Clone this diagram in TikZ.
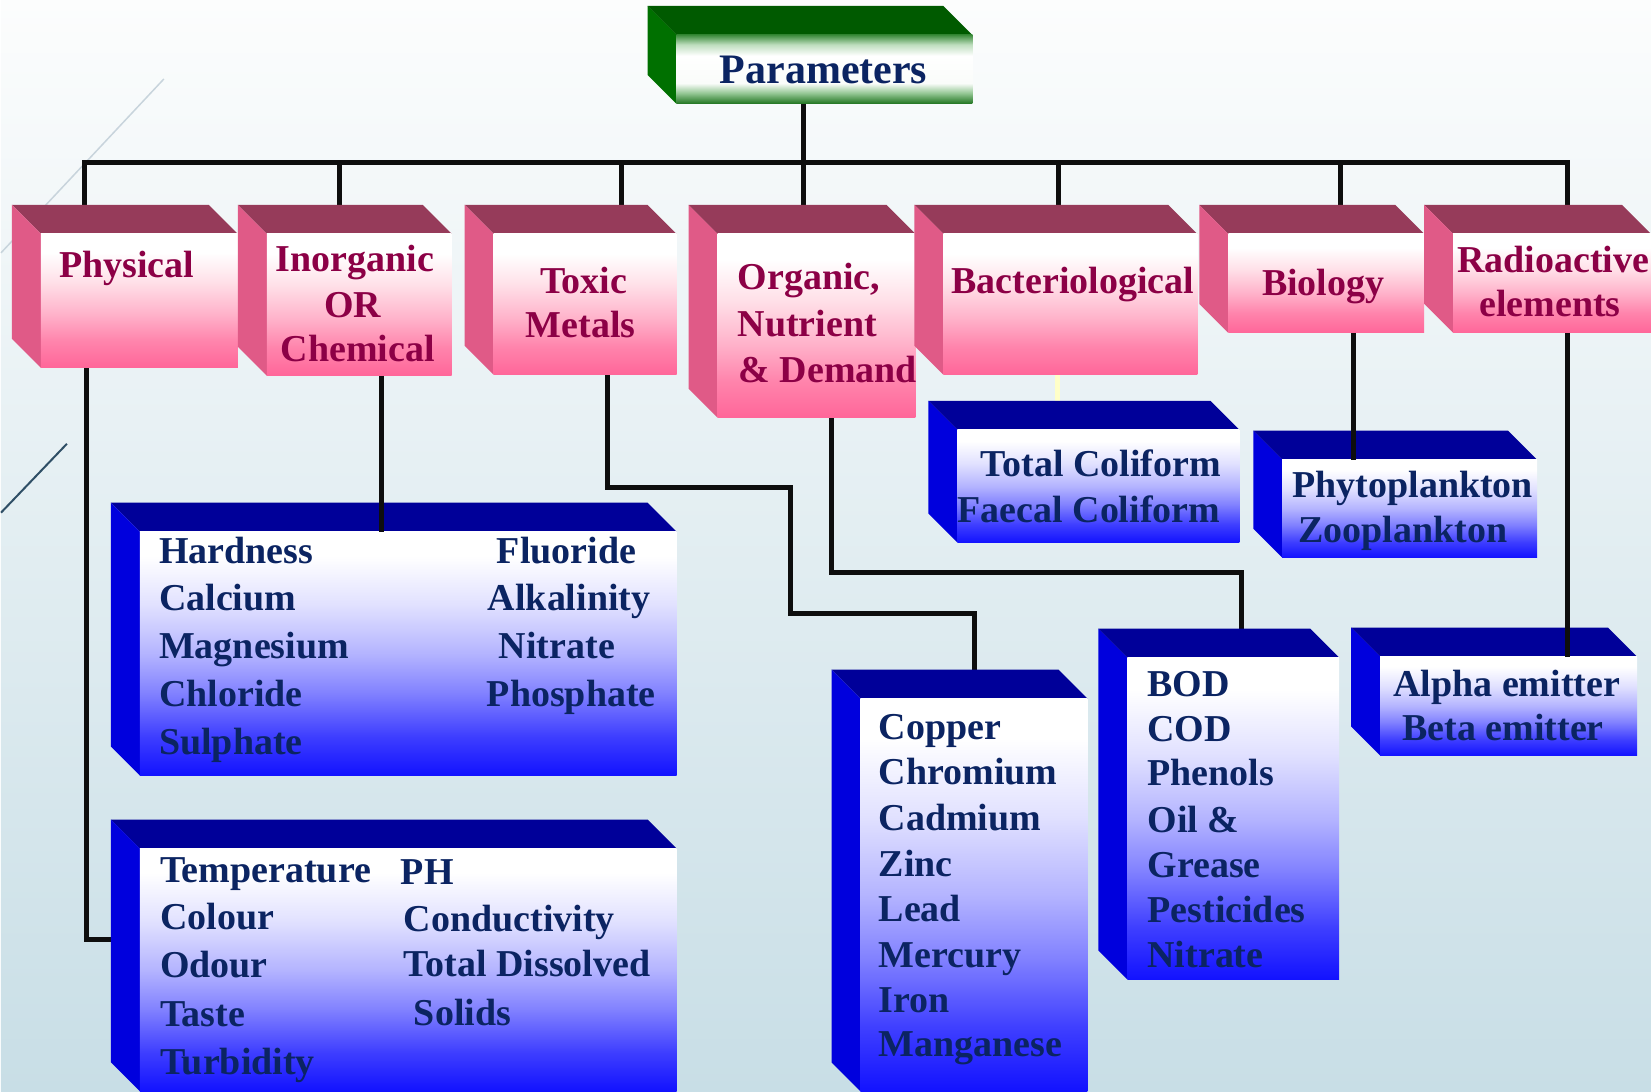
\documentclass[tikz,border=0pt]{standalone}
\usepackage{fontspec}
\setmainfont{Liberation Serif}

% colours
\definecolor{bgTop}{RGB}{252,253,253}
\definecolor{bgBot}{RGB}{200,222,230}
\definecolor{decoLight}{RGB}{200,212,220}
\definecolor{decoDark}{RGB}{47,79,102}
\definecolor{wire}{RGB}{14,14,14}
\definecolor{paleWire}{RGB}{255,255,200}
\definecolor{pinkTop}{RGB}{150,59,90}
\definecolor{pinkSide}{RGB}{224,90,135}
\definecolor{blueTop}{RGB}{0,0,153}
\definecolor{blueSide}{RGB}{0,0,221}
\definecolor{greenTop}{RGB}{0,90,0}
\definecolor{greenSide}{RGB}{0,112,0}
\definecolor{pinkText}{RGB}{140,0,70}
\definecolor{navyText}{RGB}{11,36,98}

% gradient stops
\definecolor{pkA}{RGB}{255,102,153}
\definecolor{pkB}{RGB}{255,132,172}
\definecolor{pkC}{RGB}{255,178,202}
\definecolor{pkD}{RGB}{255,224,232}
\definecolor{blA}{RGB}{18,18,255}
\definecolor{blB}{RGB}{62,62,255}
\definecolor{blC}{RGB}{130,130,255}
\definecolor{blD}{RGB}{180,180,255}
\definecolor{blE}{RGB}{225,225,255}
\definecolor{gnA}{RGB}{30,115,30}
\definecolor{gnB}{RGB}{150,200,150}
\definecolor{gnC}{RGB}{250,252,250}
\definecolor{gnD}{RGB}{190,222,190}
\definecolor{gnE}{RGB}{60,140,60}

% front-face gradients (the path spans 25bp..75bp)
\pgfdeclareverticalshading{pinkface}{100bp}{%
  color(0bp)=(pkA); color(25bp)=(pkA); color(35bp)=(pkB); color(45bp)=(pkC);
  color(57bp)=(pkD); color(68bp)=(white); color(100bp)=(white)}
\pgfdeclareverticalshading{blueface}{100bp}{%
  color(0bp)=(blA); color(25bp)=(blA); color(33bp)=(blB); color(42bp)=(blC);
  color(50bp)=(blD); color(60bp)=(blE); color(70bp)=(white); color(100bp)=(white)}
\pgfdeclareverticalshading{greenface}{100bp}{%
  color(0bp)=(gnA); color(25bp)=(gnA); color(33bp)=(gnB); color(40bp)=(gnC);
  color(60bp)=(white); color(68bp)=(gnD); color(75bp)=(gnE); color(100bp)=(gnE)}

\pgfdeclarelayer{backdrop}
\pgfdeclarelayer{wires}
\pgfsetlayers{backdrop,wires,main}

\tikzset{
  link/.style={draw=wire, line width=5pt},
  face/.style={inner sep=0pt, outer sep=0pt, draw=none, shade},
  pinktop/.style={fill=pinkTop}, pinkside/.style={fill=pinkSide},
  pinkfront/.style={shading=pinkface},
  bluetop/.style={fill=blueTop}, blueside/.style={fill=blueSide},
  bluefront/.style={shading=blueface},
  greentop/.style={fill=greenTop}, greenside/.style={fill=greenSide},
  greenfront/.style={shading=greenface},
  ptxt/.style={text=pinkText, inner sep=0pt,
    font=\bfseries\fontsize{38}{44}\selectfont},
  btxt/.style={text=navyText, inner sep=0pt, anchor=base west,
    font=\bfseries\fontsize{38}{44}\selectfont},
}

% a box seen from the upper left: top face, left face and a shaded front
% #1 name, #2 colour kind, #3 x0, #4 y0, #5 x1, #6 y1 of the front face
\newcommand\cubebox[6]{%
  \fill[#2top] ({#3-29},{#4-29}) -- ({#5-29},{#4-29}) -- (#5,#4) -- (#3,#4) -- cycle;
  \fill[#2side] ({#3-29},{#4-29}) -- (#3,#4) -- (#3,#6) -- ({#3-29},{#6-29}) -- cycle;
  \node[face, #2front, minimum width={#5-#3}, minimum height={#6-#4}]
    (#1) at ({(#3+#5)/2},{(#4+#6)/2}) {};
}

\begin{document}
\begin{tikzpicture}[x=1pt,y=-1pt]

\begin{pgfonlayer}{backdrop}
  \shade[top color=bgTop, bottom color=bgBot] (0,0) rectangle (1651,1092);
  \draw[decoLight, line width=1.5pt] (163,79) -- (0,253);
  \draw[decoDark, line width=2pt] (66,444) -- (0,513);
\end{pgfonlayer}
\useasboundingbox (0,0) rectangle (1651,1092);

% title
\cubebox{params}{green}{676}{35}{972}{104}

% categories
\cubebox{phys}{pink}{40}{234}{237}{368}
\cubebox{inorg}{pink}{266}{234}{451}{376}
\cubebox{toxic}{pink}{493}{234}{676}{375}
\cubebox{organic}{pink}{717}{234}{915}{418}
\cubebox{bact}{pink}{943}{234}{1197}{375}
\cubebox{bio}{pink}{1228}{234}{1424}{333}
\cubebox{radio}{pink}{1453}{234}{1651}{333}

% parameter lists
\cubebox{hard}{blue}{139}{532}{676}{776}
\cubebox{temp}{blue}{139}{849}{676}{1092}
\cubebox{coli}{blue}{957}{430}{1239}{543}
\cubebox{phyto}{blue}{1282}{460}{1537}{558}
\cubebox{copper}{blue}{860}{699}{1087}{1092}
\cubebox{bod}{blue}{1127}{658}{1339}{980}
\cubebox{alpha}{blue}{1380}{657}{1637}{756}

% connectors running behind the boxes
\begin{pgfonlayer}{wires}
  \draw[link] ([xshift=44]phys.north west) -- ++(0,-71) -| ([xshift=114]radio.north west);
  \draw[link] ([xshift=127]params.south west) -- ([xshift=86]organic.north west);
  \draw[link] ([xshift=73]inorg.north west) -- ++(0,-71);
  \draw[link] ([xshift=128]toxic.north west) -- ++(0,-71);
  \draw[link] ([xshift=115]bact.north west) -- ++(0,-71);
  \draw[link] ([xshift=112]bio.north west) -- ++(0,-71);
  \draw[link] ([xshift=46]phys.south west) |- ([xshift=-29,yshift=-91]temp.north west);
  \draw[link] ([xshift=114]toxic.south west) |- ++(183,113) |- ++(184,126)
    -- ([xshift=114]copper.north west);
  \draw[link] ([xshift=114]organic.south west) |- ++(410,155)
    -- ([xshift=114]bod.north west);
  \draw[paleWire, line width=5pt] ([xshift=114]bact.south west)
    -- ([xshift=100,yshift=29]coli.north west);
\end{pgfonlayer}

% connectors drawn over the top faces
\draw[link] ([xshift=115]inorg.south west) -- ([xshift=242]hard.north west);
\draw[link] ([xshift=125]bio.south west) -- ([xshift=71]phyto.north west);
\draw[link] ([xshift=114]radio.south west) -- ([xshift=187]alpha.north west);

% title text
\node[text=navyText, inner sep=0pt, anchor=base, font=\bfseries\fontsize{42}{48}\selectfont]
  (tParams) at (823,84) {Parameters};

% category labels
\node[ptxt, anchor=base west] (tPhys) at (58,278) {Physical};
\node[ptxt, anchor=base] (tInorg1) at (354,272) {Inorganic};
\node[ptxt, anchor=base] (tInorg2) at (352,318) {OR};
\node[ptxt, anchor=base] (tInorg3) at (357,362) {Chemical};
\node[ptxt, anchor=base] (tToxic1) at (583,294) {Toxic};
\node[ptxt, anchor=base] (tToxic2) at (580,338) {Metals};
\node[ptxt, anchor=base west] (tOrg1) at (737,290) {Organic,};
\node[ptxt, anchor=base west] (tOrg2) at (737,337) {Nutrient};
\node[ptxt, anchor=base west] (tOrg3) at (738,383) {\& Demand};
\node[ptxt, anchor=base west] (tBact) at (951,294) {Bacteriological};
\node[ptxt, anchor=base] (tBio) at (1323,296) {Biology};
\node[ptxt, anchor=base] (tRadio1) at (1553,273) {Radioactive};
\node[ptxt, anchor=base] (tRadio2) at (1550,317) {elements};

% inorganic / chemical parameters
\node[btxt] (h1) at (158,564) {Hardness};
\node[btxt] (h2) at (158,611) {Calcium};
\node[btxt] (h3) at (158,659) {Magnesium};
\node[btxt] (h4) at (158,707) {Chloride};
\node[btxt] (h5) at (158,755) {Sulphate};
\node[btxt] (h6) at (496,564) {Fluoride};
\node[btxt] (h7) at (487,611) {Alkalinity};
\node[btxt] (h8) at (498,659) {Nitrate};
\node[btxt] (h9) at (486,707) {Phosphate};

% physical parameters
\node[btxt] (p1) at (159,883) {Temperature};
\node[btxt] (p2) at (159,930) {Colour};
\node[btxt] (p3) at (159,978) {Odour};
\node[btxt] (p4) at (159,1027) {Taste};
\node[btxt] (p5) at (159,1075) {Turbidity};
\node[btxt] (p6) at (400,885) {PH};
\node[btxt] (p7) at (403,932) {Conductivity};
\node[btxt] (p8) at (403,977) {Total Dissolved};
\node[btxt] (p9) at (413,1026) {Solids};

% toxic metals
\node[btxt] (m1) at (878,740) {Copper};
\node[btxt] (m2) at (878,785) {Chromium};
\node[btxt] (m3) at (878,831) {Cadmium};
\node[btxt] (m4) at (878,877) {Zinc};
\node[btxt] (m5) at (878,922) {Lead};
\node[btxt] (m6) at (878,968) {Mercury};
\node[btxt] (m7) at (878,1013) {Iron};
\node[btxt] (m8) at (878,1057) {Manganese};

% organic, nutrient and demand
\node[btxt] (o1) at (1147,697) {BOD};
\node[btxt] (o2) at (1147,742) {COD};
\node[btxt] (o3) at (1147,786) {Phenols};
\node[btxt] (o4) at (1147,833) {Oil \&};
\node[btxt] (o5) at (1147,878) {Grease};
\node[btxt] (o6) at (1147,923) {Pesticides};
\node[btxt] (o7) at (1147,968) {Nitrate};

% bacteriological, biology, radioactive
\node[btxt] (c1) at (980,477) {Total Coliform};
\node[btxt] (c2) at (957,523) {Faecal Coliform};
\node[btxt] (b1) at (1292,498) {Phytoplankton};
\node[btxt] (b2) at (1298,543) {Zooplankton};
\node[btxt] (r1) at (1393,697) {Alpha emitter};
\node[btxt] (r2) at (1402,741) {Beta emitter};

\end{tikzpicture}
\end{document}
